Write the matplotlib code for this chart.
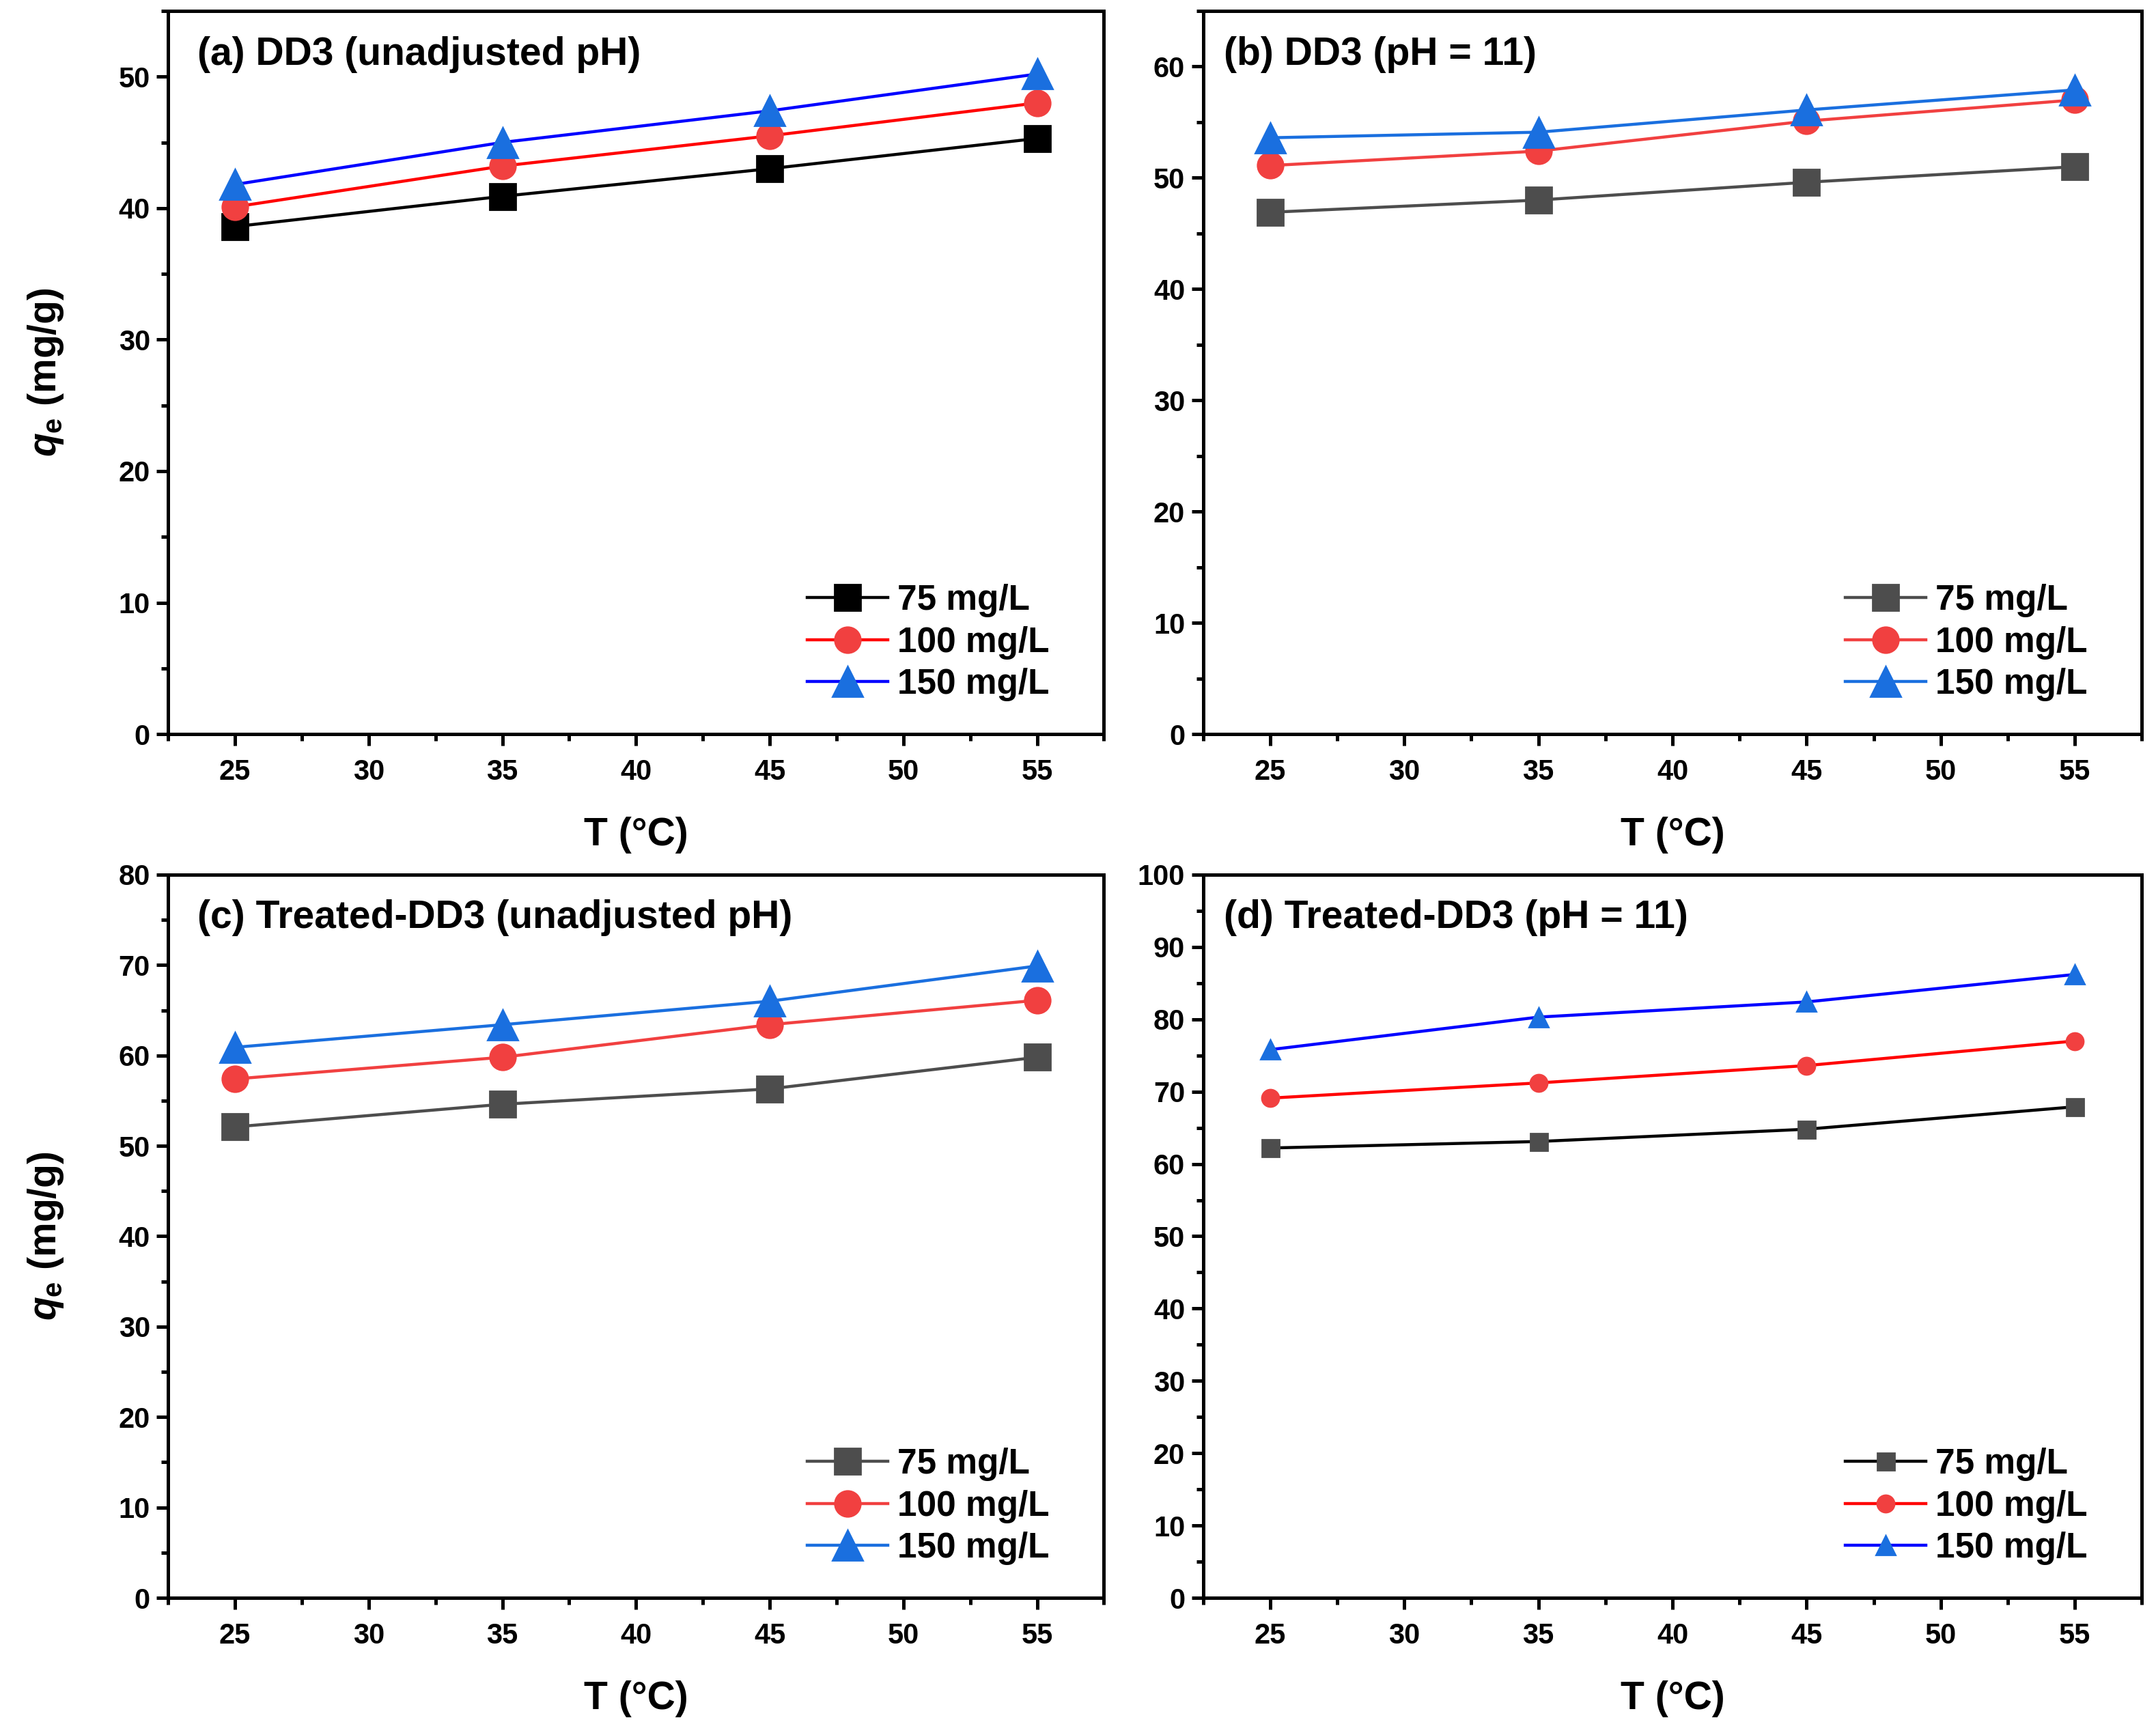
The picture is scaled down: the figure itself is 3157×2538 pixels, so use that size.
#!/usr/bin/env python3

import matplotlib

matplotlib.use("Agg")
import matplotlib.pyplot as plt
from matplotlib.ticker import MultipleLocator

plt.rcParams["font.family"] = ["Liberation Sans", "DejaVu Sans"]
plt.rcParams["font.weight"] = "bold"
plt.rcParams["axes.labelweight"] = "bold"
plt.rcParams["mathtext.fontset"] = "custom"
plt.rcParams["mathtext.it"] = "Liberation Sans:italic:bold"
plt.rcParams["mathtext.rm"] = "Liberation Sans:bold"

temps = [25, 35, 45, 55]
labels = ["75 mg/L", "100 mg/L", "150 mg/L"]

# (a) DD3, unadjusted pH
a_75 = [38.6, 40.9, 43.0, 45.3]
a_100 = [40.1, 43.2, 45.5, 48.0]
a_150 = [41.8, 45.0, 47.4, 50.2]

# (b) DD3, pH = 11
b_75 = [46.9, 48.0, 49.6, 51.0]
b_100 = [51.1, 52.4, 55.1, 57.0]
b_150 = [53.6, 54.1, 56.1, 57.9]

# (c) Treated-DD3, unadjusted pH
c_75 = [52.1, 54.6, 56.3, 59.8]
c_100 = [57.4, 59.8, 63.4, 66.1]
c_150 = [60.9, 63.4, 66.0, 69.9]

# (d) Treated-DD3, pH = 11
d_75 = [62.2, 63.1, 64.8, 67.9]
d_100 = [69.1, 71.2, 73.6, 77.0]
d_150 = [75.8, 80.3, 82.4, 86.2]

GRAY = "#4d4d4d"
RED_M = "#f14040"
BLUE_M = "#1a6fdf"

panels = [
    {
        "title": "(a) DD3 (unadjusted pH)", "ymax": 55, "series": [a_75, a_100, a_150],
        "lines": ["black", "#ff0000", "#0000ff"], "marks": ["black", RED_M, BLUE_M],
        "ms": 13.5, "rect": [0.078, 0.5764, 0.434, 0.4173], "tx": 0.031, "ylabel": True,
    },
    {
        "title": "(b) DD3 (pH = 11)", "ymax": 65, "series": [b_75, b_100, b_150],
        "lines": [GRAY, RED_M, BLUE_M], "marks": [GRAY, RED_M, BLUE_M],
        "ms": 13.5, "rect": [0.558, 0.5764, 0.4355, 0.4173], "tx": 0.022, "ylabel": False,
    },
    {
        "title": "(c) Treated-DD3 (unadjusted pH)", "ymax": 80, "series": [c_75, c_100, c_150],
        "lines": [GRAY, RED_M, BLUE_M], "marks": [GRAY, RED_M, BLUE_M],
        "ms": 13.5, "rect": [0.078, 0.078, 0.434, 0.4173], "tx": 0.031, "ylabel": True,
    },
    {
        "title": "(d) Treated-DD3 (pH = 11)", "ymax": 100, "series": [d_75, d_100, d_150],
        "lines": ["black", "#ff0000", "#0000ff"], "marks": [GRAY, RED_M, BLUE_M],
        "ms": 9, "rect": [0.558, 0.078, 0.4355, 0.4173], "tx": 0.022, "ylabel": False,
    },
]

markers = ["s", "o", "^"]

fig = plt.figure(figsize=(15.785, 12.69), dpi=200)

for p in panels:
    ax = fig.add_axes(p["rect"])
    for ys, lab, lc, mc, mk in zip(p["series"], labels, p["lines"], p["marks"], markers):
        ms = p["ms"] * (1.15 if mk == "^" else 1.0)
        ax.plot(temps, ys, color=lc, lw=1.6, marker=mk, ms=ms, mfc=mc, mec=mc, label=lab)
    ax.set_xlim(22.5, 57.5)
    ax.set_ylim(0, p["ymax"])
    ax.xaxis.set_major_locator(MultipleLocator(5))
    ax.xaxis.set_minor_locator(MultipleLocator(2.5))
    ax.yaxis.set_major_locator(MultipleLocator(10))
    ax.yaxis.set_minor_locator(MultipleLocator(5))
    ax.tick_params(which="both", direction="out", width=1.8, labelsize=15)
    ax.tick_params(axis="x", pad=7)
    ax.tick_params(which="major", length=6)
    ax.tick_params(which="minor", length=3.5)
    for s in ax.spines.values():
        s.set_linewidth(1.8)
    ax.set_xlabel("T (°C)", fontsize=20.5, labelpad=16)
    if p["ylabel"]:
        ax.set_ylabel(r"$q_\mathregular{e}$ (mg/g)", fontsize=20.5, labelpad=28)
    ax.text(p["tx"], 0.94, p["title"], transform=ax.transAxes, fontsize=20.5,
            ha="left", va="center")
    ax.legend(loc="lower right", bbox_to_anchor=(0.942, 0.045), frameon=False,
              fontsize=18.5, handlelength=2.3, handletextpad=0.27, labelspacing=0.25,
              borderaxespad=0, borderpad=0)

fig.savefig("out.png", dpi=200)
plt.close(fig)
